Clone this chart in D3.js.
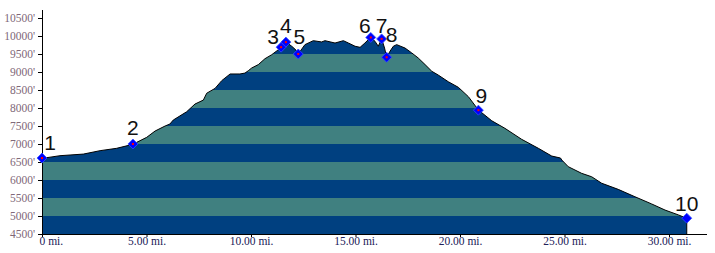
<!DOCTYPE html>
<meta charset="utf-8">
<style>
body { margin: 0; background: #fff; }
svg { display: block; }
</style>
<svg width="715" height="253"></svg>
<script src="https://d3js.org/d3.v7.min.js"></script>
<script>

// elevation profile (miles, feet)
var profileMiles = [0, 0.86, 1.98, 2.78, 3.57, 4.34, 5.01, 5.41, 5.89, 6.12, 6.28, 6.92, 7.32, 7.72, 7.88, 8.28, 8.60, 9.00, 9.47, 9.71,
    9.87, 10.03, 10.35, 10.67, 10.99, 11.31, 11.44, 11.67, 11.95, 12.15, 12.26, 12.58, 12.98, 13.38, 13.54, 14.02, 14.42, 14.66, 14.98, 15.22,
    15.45, 15.73, 15.93, 16.09, 16.25, 16.39, 16.49, 16.65, 16.81, 16.97, 17.37, 17.69, 18.00, 18.33, 18.65, 18.96, 19.44, 19.92, 20.40, 20.88,
    21.52, 22.15, 22.95, 23.75, 24.39, 24.81, 24.87, 25.18, 25.82, 26.30, 26.78, 27.57, 28.37, 29.17, 29.81, 30.45, 30.85];
var profileFeet = [6600, 6675, 6720, 6815, 6880, 6990, 7185, 7360, 7500, 7555, 7665, 7895, 8110, 8220, 8410, 8545, 8760, 8945, 8945, 8970,
    9035, 9110, 9205, 9370, 9480, 9620, 9690, 9830, 9715, 9610, 9500, 9760, 9870, 9835, 9870, 9805, 9870, 9805, 9715, 9685,
    9805, 9965, 9855, 9715, 9920, 9665, 9410, 9575, 9715, 9760, 9665, 9530, 9390, 9205, 9020, 8915, 8730, 8575, 8315, 7945,
    7645, 7435, 7130, 6880, 6665, 6610, 6555, 6370, 6185, 6090, 5910, 5740, 5535, 5335, 5165, 5030, 4935];

// waypoints
var markerNames = ["1", "2", "3", "4", "5", "6", "7", "8", "9", "10"];
var markerMiles = [0, 4.35, 11.44, 11.67, 12.26, 15.73, 16.25, 16.49, 20.88, 30.85];
var markerFeet = [6610, 7000, 9690, 9830, 9500, 9960, 9920, 9410, 7940, 4940];

var yTicks = [4500, 5000, 5500, 6000, 6500, 7000, 7500, 8000, 8500, 9000, 9500, 10000, 10500];
var xTicks = [0, 5, 10, 15, 20, 25, 30];
var xTickLabels = ["0 mi.", "5.00 mi.", "10.00 mi.", "15.00 mi.", "20.00 mi.", "25.00 mi.", "30.00 mi."];

// label nudges (px) so the numbers sit like the original
var labelDx = [8, 0, -8, 0, 1, -6, 0, 5, 3, 0],
    labelDy = [-8, -9, -3, -9, -10, -4, -6, -15, -7, -7];

var svg = d3.select("svg");

var x = d3.scaleLinear().domain([0, 30]).range([42, 669]),
    y = d3.scaleLinear().domain([4500, 10500]).range([234, 18]);

var profile = profileMiles.map(function(m, i) { return [m, profileFeet[i]]; }),
    lastMile = profileMiles[profileMiles.length - 1];

var area = d3.area()
    .x(function(d) { return x(d[0]); })
    .y0(y(4500))
    .y1(function(d) { return y(d[1]); });

svg.append("clipPath").attr("id", "clip")
  .append("path").attr("d", area(profile));

// striped fill, one band per 500'
svg.append("g")
    .attr("clip-path", "url(#clip)")
  .selectAll("rect")
  .data(d3.pairs(yTicks))
  .enter().append("rect")
    .attr("x", x(0))
    .attr("width", x(lastMile) - x(0) + 1)
    .attr("y", function(d) { return y(d[1]); })
    .attr("height", function(d) { return y(d[0]) - y(d[1]); })
    .attr("fill", function(d, i) { return i % 2 ? "#408080" : "#004080"; });

var line = d3.line()
    .x(function(d) { return x(d[0]); })
    .y(function(d) { return y(d[1]); });

svg.append("path")
    .attr("d", line(profile.concat([[lastMile, 4500]])))
    .attr("fill", "none")
    .attr("stroke", "#000")
    .attr("stroke-width", 1);

// y axis
var yAxis = svg.append("g")
    .attr("transform", "translate(42,0)")
    .call(d3.axisLeft(y).tickValues(yTicks).tickSize(4).tickPadding(3)
      .tickFormat(function(d) { return d + "'"; }));
yAxis.select(".domain").remove();
yAxis.selectAll("text")
    .attr("font-family", "'Liberation Serif', 'Times New Roman', serif")
    .attr("font-size", 11.5)
    .attr("fill", "#806878");

svg.append("line")
    .attr("x1", 42.5).attr("x2", 42.5)
    .attr("y1", 10).attr("y2", 234.5)
    .attr("stroke", "#000");

// x axis
var xAxis = svg.append("g")
    .attr("transform", "translate(0,234)")
    .call(d3.axisBottom(x).tickValues(xTicks).tickSize(3).tickPadding(0)
      .tickFormat(function(d, i) { return xTickLabels[i]; }));
xAxis.select(".domain").remove();
xAxis.selectAll("text")
    .attr("font-family", "'Liberation Serif', 'Times New Roman', serif")
    .attr("font-size", 11.5)
    .attr("fill", "#202058");
xAxis.select(".tick text")
    .attr("text-anchor", "start")
    .attr("dx", -3);

svg.append("line")
    .attr("x1", 42).attr("x2", 707)
    .attr("y1", 234.5).attr("y2", 234.5)
    .attr("stroke", "#000");

// waypoint markers
var markers = svg.append("g")
  .selectAll("g")
  .data(markerNames)
  .enter().append("g")
    .attr("transform", function(d, i) { return "translate(" + x(markerMiles[i]) + "," + y(markerFeet[i]) + ")"; });

markers.append("path")
    .attr("d", "M0,-5L5,0L0,5L-5,0Z")
    .attr("fill", "#0000ff")
    .attr("stroke", "#3050ff")
    .attr("stroke-width", 0.8);

markers.filter(function(d, i) { return i < markerNames.length - 1; })
  .append("rect")
    .attr("x", -1).attr("y", -1)
    .attr("width", 2).attr("height", 2)
    .attr("fill", "#ff0000");

markers.append("text")
    .attr("x", function(d, i) { return labelDx[i]; })
    .attr("y", function(d, i) { return labelDy[i]; })
    .attr("text-anchor", "middle")
    .attr("font-family", "'Liberation Sans', Arial, sans-serif")
    .attr("font-size", 21)
    .attr("fill", "#111")
    .text(function(d) { return d; });

</script>
